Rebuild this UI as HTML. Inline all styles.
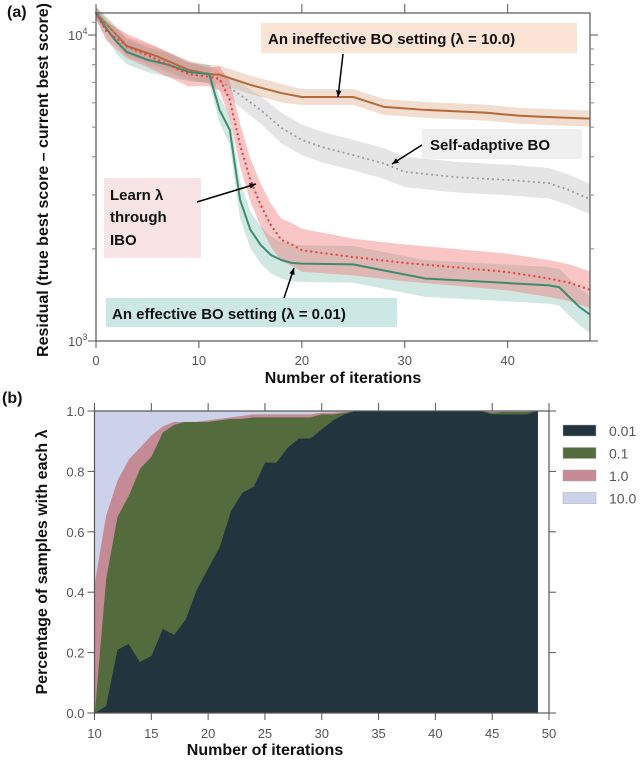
<!DOCTYPE html>
<html><head><meta charset="utf-8"><style>
html,body{margin:0;padding:0;background:#fff;}
svg{display:block;font-family:"Liberation Sans",sans-serif;}
.tk{font-size:13px;fill:#555;}
.ti{font-size:16px;font-weight:bold;fill:#111;}
.ann{font-size:15px;font-weight:bold;fill:#111;}
</style></head><body>
<svg id="fig" width="640" height="760" viewBox="0 0 640 760"></svg>
<script>
// ---- Panel (a) data ----
const greenX = [0,1,2,3,5,7,9,11,12,13,14,15,16,17,18,19,20,25,28,32,38,44,45,46,47,48];
const greenY = [11800,10500,9500,8800,8300,8000,7570,7450,5690,4900,2890,2310,2060,1910,1840,1800,1790,1780,1700,1600,1560,1520,1500,1390,1290,1220];
const greenSpread = [0.02,0.03,0.04,0.04,0.04,0.04,0.03,0.03,0.04,0.05,0.06,0.06,0.06,0.06,0.06,0.06,0.06,0.06,0.06,0.06,0.06,0.06,0.06,0.06,0.06,0.06];
const redX = [0,1,3,5,7,9,11,12,13,14,15,16,17,18,19,20,25,30,35,40,44,46,48];
const redY = [11800,10300,9200,8600,8000,7450,7300,7200,6130,4370,3360,2780,2390,2140,2070,1980,1880,1800,1740,1680,1600,1550,1470];
const redSpread = [0.02,0.03,0.04,0.04,0.04,0.04,0.03,0.04,0.06,0.07,0.07,0.07,0.07,0.07,0.07,0.07,0.06,0.06,0.06,0.06,0.06,0.06,0.06];
const orangeX = [0,3,6,9,11,12,15,18,20,22,25,28,32,38,41,43,48];
const orangeY = [11800,9200,8500,7690,7450,7420,6870,6460,6270,6270,6270,5820,5690,5570,5450,5410,5330];
const orangeSpread = [0.02,0.03,0.03,0.03,0.03,0.03,0.03,0.03,0.026,0.026,0.026,0.026,0.026,0.026,0.026,0.026,0.026];
const grayX = [0,3,6,9,11,12,14,16,18,20,22,25,28,30,35,40,44,46,48];
const grayY = [11800,9100,8300,7600,7450,7100,6370,5690,4970,4540,4300,4050,3800,3570,3430,3360,3280,3110,2910];
const graySpread = [0.02,0.03,0.03,0.03,0.03,0.03,0.04,0.045,0.05,0.05,0.05,0.05,0.05,0.05,0.05,0.05,0.05,0.05,0.05];
const aXTicks = [0,10,20,30,40];
// ---- Panel (b) data ----
const iterX = [10,11,12,13,14,15,16,17,18,19,20,21,22,23,24,25,26,27,28,29,30,31,32,33,34,35,36,37,38,39,40,41,42,43,44,45,46,47,48,49];
const share001 = [0,0.024,0.21,0.23,0.17,0.19,0.28,0.26,0.31,0.41,0.48,0.55,0.67,0.73,0.75,0.83,0.83,0.88,0.91,0.91,0.94,0.97,0.99,1,1,1,1,1,1,1,1,1,1,1,1,0.99,0.99,0.99,0.99,1];
const share01 = [0,0.42,0.44,0.49,0.64,0.66,0.65,0.695,0.655,0.555,0.485,0.42,0.305,0.245,0.23,0.15,0.15,0.10,0.07,0.07,0.05,0.02,0.005,0,0,0,0,0,0,0,0,0,0,0,0,0.005,0.008,0.008,0.008,0];
const share1 = [0.43,0.21,0.12,0.12,0.07,0.07,0.02,0.01,0,0,0.005,0.005,0.005,0.01,0.01,0.01,0.01,0.01,0.01,0.01,0.005,0.005,0.003,0,0,0,0,0,0,0,0,0,0,0,0,0.003,0,0,0,0];
const share10 = [0.57,0.346,0.23,0.16,0.12,0.08,0.05,0.035,0.035,0.035,0.03,0.025,0.02,0.015,0.01,0.01,0.01,0.01,0.01,0.01,0.005,0.005,0.002,0,0,0,0,0,0,0,0,0,0,0,0,0.002,0.002,0.002,0.002,0];
const bXTicks = [10,15,20,25,30,35,40,45,50];
const bYTicks = [0,0.2,0.4,0.6,0.8,1.0];
const bYLabels = ["0.0","0.2","0.4","0.6","0.8","1.0"];
const legendLabels = ["0.01","0.1","1.0","10.0"];

const NS="http://www.w3.org/2000/svg";
const svg=document.getElementById('fig');
function mk(tag,attrs,parent){const e=document.createElementNS(NS,tag);for(const k in attrs)e.setAttribute(k,attrs[k]);(parent||svg).appendChild(e);return e;}

// Panel (a) axes
const aL=96,aR=590,aT=13,aB=341;
const ax=x=>aL+x*(aR-aL)/48;
const ay=v=>aB-(Math.log10(v)-3)*306;
const gA=mk('g',{});



function band(xs,ys,sp,fill,name){
  let d='';
  xs.forEach((x,i)=>{d+=(i?'L':'M')+ax(x)+','+ay(ys[i]*Math.pow(10,sp[i]));});
  for(let i=xs.length-1;i>=0;i--)d+='L'+ax(xs[i])+','+ay(ys[i]/Math.pow(10,sp[i]));
  const p=mk('path',{d:d+'Z',fill:fill,stroke:'none'},gA);
  
  
}
function line(xs,ys,color,w,dash,name){
  const pts=xs.map((x,i)=>ax(x)+','+ay(ys[i])).join(' ');
  const a={points:pts,fill:'none',stroke:color,'stroke-width':w};
  if(dash){a['stroke-dasharray']=dash;a['stroke-linecap']='round';}
  const p=mk('polyline',a,gA);
  
  
}
band(orangeX,orangeY,orangeSpread,'rgba(214,160,120,0.35)','band-lambda-10');
band(grayX,grayY,graySpread,'rgba(180,180,180,0.35)','band-self-adaptive');
band(greenX,greenY,greenSpread,'rgba(120,190,170,0.35)','band-lambda-001');
band(redX,redY,redSpread,'rgba(240,110,110,0.4)','band-ibo');
line(orangeX,orangeY,'#b5693a',2,null,'line-lambda-10');
line(grayX,grayY,'#999',2,'0.1 5','line-self-adaptive');
line(greenX,greenY,'#3e8c70',2,null,'line-lambda-001');
line(redX,redY,'#f03c3c',2.2,'0.1 5','line-ibo');

// frame + ticks (a)
let fr=mk('rect',{x:aL,y:aT,width:aR-aL,height:aB-aT,fill:'none',stroke:'#555','stroke-width':1.2},gA);

aXTicks.forEach(t=>{
  mk('line',{x1:ax(t),x2:ax(t),y1:aT,y2:aT-9,stroke:'#555'},gA);
  mk('line',{x1:ax(t),x2:ax(t),y1:aB,y2:aB+7,stroke:'#555'},gA);
  const tx=mk('text',{x:ax(t),y:aB+24,'text-anchor':'middle',class:'tk'},gA);tx.textContent=t;
  
});
[1000,10000].forEach(v=>{
  mk('line',{x1:aL-8,x2:aL,y1:ay(v),y2:ay(v),stroke:'#555'},gA);
  mk('line',{x1:aR,x2:aR+8,y1:ay(v),y2:ay(v),stroke:'#555'},gA);
  const tx=mk('text',{x:aL-28,y:ay(v)+5,'text-anchor':'start',class:'tk'},gA);
  tx.innerHTML=(v===1000?'10<tspan dy="-6" font-size="9">3</tspan>':'10<tspan dy="-6" font-size="9">4</tspan>');
  
});
for(let m=2;m<=9;m++){const v=1000*m;
  mk('line',{x1:aL-4,x2:aL,y1:ay(v),y2:ay(v),stroke:'#888'},gA);
  mk('line',{x1:aR,x2:aR+4,y1:ay(v),y2:ay(v),stroke:'#888'},gA);}
mk('line',{x1:aL-4,x2:aL,y1:ay(11000),y2:ay(11000),stroke:'#888'},gA);

// annotations (a)
function box(x,y,w,h,fill,name){const r=mk('rect',{x:x,y:y,width:w,height:h,fill:fill},gA);}
function txt(x,y,s,name){const t=mk('text',{x:x,y:y,class:'ann'},gA);t.textContent=s;}
function arrow(x1,y1,x2,y2,name){
  const l=mk('line',{x1:x1,y1:y1,x2:x2,y2:y2,stroke:'#000','stroke-width':1.5},gA);
  
  const a=Math.atan2(y2-y1,x2-x1),s=7;
  mk('polygon',{points:`${x2},${y2} ${x2-s*Math.cos(a-0.4)},${y2-s*Math.sin(a-0.4)} ${x2-s*Math.cos(a+0.4)},${y2-s*Math.sin(a+0.4)}`,fill:'#000'},gA);
}
box(261,23,316,30,'#fbe3d5','annotation-box-ineffective');
txt(268,44,'An ineffective BO setting (λ = 10.0)','annotation-ineffective');
arrow(343,54,338,97,'arrow-ineffective');
box(422,129,160,30,'#efefef','annotation-box-self-adaptive');
txt(430,150,'Self-adaptive BO','annotation-self-adaptive');
arrow(422,145,392,164,'arrow-self-adaptive');
box(104,178,97,80,'#f8e4e4','annotation-box-ibo');
txt(110,200,'Learn λ','annotation-ibo-1');txt(110,222,'through','annotation-ibo-2');txt(110,245,'IBO','annotation-ibo-3');
arrow(197,202,256,184,'arrow-ibo');
box(106,298,291,29,'#cce8e5','annotation-box-effective');
txt(112,319,'An effective BO setting (λ = 0.01)','annotation-effective');
arrow(284,298,294,268,'arrow-effective');

let t=mk('text',{x:7,y:17,class:'ti'});t.textContent='(a)';
t=mk('text',{x:0,y:0,class:'ti','text-anchor':'middle',transform:'translate(48,180) rotate(-90)'});t.textContent='Residual (true best score – current best score)';
t=mk('text',{x:343,y:383,class:'ti','text-anchor':'middle'});t.textContent='Number of iterations';

// Panel (b)
const bL=94.5,bR=549,bT=411,bB=713;
const bx=x=>bL+(x-10)*(bR-bL)/40;
const by=v=>bB-v*(bB-bT);
const gB=mk('g',{});


const series=[share001,share01,share1,share10];
const colors=['#22353f','#546c3d','#c48b96','#ccd2ea'];
const names=['area-lambda-001','area-lambda-01','area-lambda-1','area-lambda-10'];
let base=iterX.map(()=>0);
series.forEach((s,k)=>{
  const top=base.map((b,i)=>b+s[i]);
  let d='';
  iterX.forEach((x,i)=>{d+=(i?'L':'M')+bx(x)+','+by(top[i]);});
  for(let i=iterX.length-1;i>=0;i--)d+='L'+bx(iterX[i])+','+by(base[i]);
  const p=mk('path',{d:d+'Z',fill:colors[k],stroke:colors[k],'stroke-width':0.6},gB);
  
  
  base=top;
});
fr=mk('rect',{x:bL,y:bT,width:bR-bL,height:bB-bT,fill:'none',stroke:'#555','stroke-width':1.2},gB);

bXTicks.forEach(v=>{
  mk('line',{x1:bx(v),x2:bx(v),y1:bT,y2:bT-8,stroke:'#555'},gB);
  mk('line',{x1:bx(v),x2:bx(v),y1:bB,y2:bB+7,stroke:'#555'},gB);
  const tx=mk('text',{x:bx(v),y:bB+25,'text-anchor':'middle',class:'tk'},gB);tx.textContent=v;
  
});
bYTicks.forEach((v,i)=>{
  mk('line',{x1:bL-7,x2:bL,y1:by(v),y2:by(v),stroke:'#555'},gB);
  mk('line',{x1:bR,x2:bR+7,y1:by(v),y2:by(v),stroke:'#555'},gB);
  const tx=mk('text',{x:bL-10,y:by(v)+5,'text-anchor':'end',class:'tk'},gB);tx.textContent=bYLabels[i];
  
});
legendLabels.forEach((s,i)=>{
  const y=425+i*22.5;
  const r=mk('rect',{x:563,y:y,width:33,height:11,fill:colors[i],stroke:'#aaa','stroke-width':0.5},gB);
  
  const tx=mk('text',{x:609,y:y+11,class:'tk',style:'font-size:14px'},gB);tx.textContent=s;
  
});
t=mk('text',{x:2,y:403,class:'ti'});t.textContent='(b)';
t=mk('text',{x:0,y:0,class:'ti','text-anchor':'middle',transform:'translate(47,562) rotate(-90)'});t.textContent='Percentage of samples with each λ';
t=mk('text',{x:265,y:755,class:'ti','text-anchor':'middle'});t.textContent='Number of iterations';
</script>
</body></html>
